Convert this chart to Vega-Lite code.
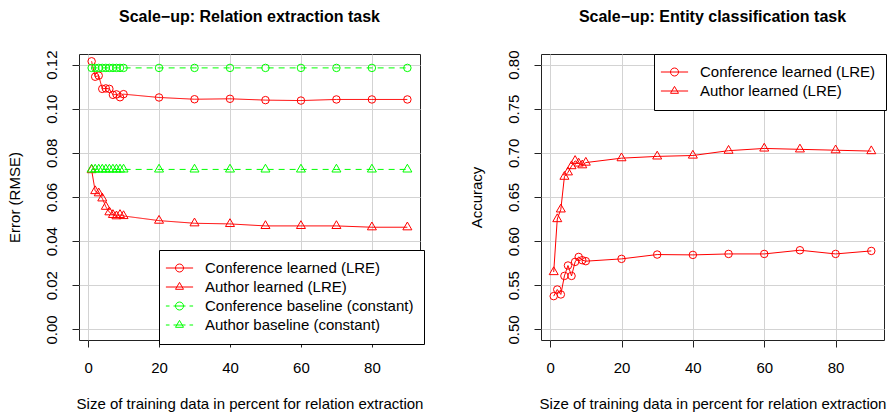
{
  "$schema": "https://vega.github.io/schema/vega-lite/v6.json",
  "padding": {"left": 6, "top": 8, "right": 0, "bottom": 0},
  "background": "white",
  "datasets": {
    "rel": [
      {"series": "Conference learned (LRE)", "x": 1, "y": 0.1215},
      {"series": "Conference learned (LRE)", "x": 2, "y": 0.1145},
      {"series": "Conference learned (LRE)", "x": 3, "y": 0.115},
      {"series": "Conference learned (LRE)", "x": 4, "y": 0.109},
      {"series": "Conference learned (LRE)", "x": 5, "y": 0.1092},
      {"series": "Conference learned (LRE)", "x": 6, "y": 0.109},
      {"series": "Conference learned (LRE)", "x": 7, "y": 0.1063},
      {"series": "Conference learned (LRE)", "x": 8, "y": 0.1065},
      {"series": "Conference learned (LRE)", "x": 9, "y": 0.1052},
      {"series": "Conference learned (LRE)", "x": 10, "y": 0.1066},
      {"series": "Conference learned (LRE)", "x": 20, "y": 0.1051},
      {"series": "Conference learned (LRE)", "x": 30, "y": 0.1043},
      {"series": "Conference learned (LRE)", "x": 40, "y": 0.1045},
      {"series": "Conference learned (LRE)", "x": 50, "y": 0.1039},
      {"series": "Conference learned (LRE)", "x": 60, "y": 0.1037},
      {"series": "Conference learned (LRE)", "x": 70, "y": 0.1042},
      {"series": "Conference learned (LRE)", "x": 80, "y": 0.1042},
      {"series": "Conference learned (LRE)", "x": 90, "y": 0.1042},
      {"series": "Author learned (LRE)", "x": 1, "y": 0.0722},
      {"series": "Author learned (LRE)", "x": 2, "y": 0.0627},
      {"series": "Author learned (LRE)", "x": 3, "y": 0.0617},
      {"series": "Author learned (LRE)", "x": 4, "y": 0.0594},
      {"series": "Author learned (LRE)", "x": 5, "y": 0.0556},
      {"series": "Author learned (LRE)", "x": 6, "y": 0.0531},
      {"series": "Author learned (LRE)", "x": 7, "y": 0.0519},
      {"series": "Author learned (LRE)", "x": 8, "y": 0.0513},
      {"series": "Author learned (LRE)", "x": 9, "y": 0.0519},
      {"series": "Author learned (LRE)", "x": 10, "y": 0.0514},
      {"series": "Author learned (LRE)", "x": 20, "y": 0.0493},
      {"series": "Author learned (LRE)", "x": 30, "y": 0.0481},
      {"series": "Author learned (LRE)", "x": 40, "y": 0.0478},
      {"series": "Author learned (LRE)", "x": 50, "y": 0.0469},
      {"series": "Author learned (LRE)", "x": 60, "y": 0.0469},
      {"series": "Author learned (LRE)", "x": 70, "y": 0.0469},
      {"series": "Author learned (LRE)", "x": 80, "y": 0.0463},
      {"series": "Author learned (LRE)", "x": 90, "y": 0.0463},
      {"series": "Conference baseline (constant)", "x": 1, "y": 0.1185},
      {"series": "Conference baseline (constant)", "x": 2, "y": 0.1185},
      {"series": "Conference baseline (constant)", "x": 3, "y": 0.1185},
      {"series": "Conference baseline (constant)", "x": 4, "y": 0.1185},
      {"series": "Conference baseline (constant)", "x": 5, "y": 0.1185},
      {"series": "Conference baseline (constant)", "x": 6, "y": 0.1185},
      {"series": "Conference baseline (constant)", "x": 7, "y": 0.1185},
      {"series": "Conference baseline (constant)", "x": 8, "y": 0.1185},
      {"series": "Conference baseline (constant)", "x": 9, "y": 0.1185},
      {"series": "Conference baseline (constant)", "x": 10, "y": 0.1185},
      {"series": "Conference baseline (constant)", "x": 20, "y": 0.1185},
      {"series": "Conference baseline (constant)", "x": 30, "y": 0.1185},
      {"series": "Conference baseline (constant)", "x": 40, "y": 0.1185},
      {"series": "Conference baseline (constant)", "x": 50, "y": 0.1185},
      {"series": "Conference baseline (constant)", "x": 60, "y": 0.1185},
      {"series": "Conference baseline (constant)", "x": 70, "y": 0.1185},
      {"series": "Conference baseline (constant)", "x": 80, "y": 0.1185},
      {"series": "Conference baseline (constant)", "x": 90, "y": 0.1185},
      {"series": "Author baseline (constant)", "x": 1, "y": 0.0725},
      {"series": "Author baseline (constant)", "x": 2, "y": 0.0725},
      {"series": "Author baseline (constant)", "x": 3, "y": 0.0725},
      {"series": "Author baseline (constant)", "x": 4, "y": 0.0725},
      {"series": "Author baseline (constant)", "x": 5, "y": 0.0725},
      {"series": "Author baseline (constant)", "x": 6, "y": 0.0725},
      {"series": "Author baseline (constant)", "x": 7, "y": 0.0725},
      {"series": "Author baseline (constant)", "x": 8, "y": 0.0725},
      {"series": "Author baseline (constant)", "x": 9, "y": 0.0725},
      {"series": "Author baseline (constant)", "x": 10, "y": 0.0725},
      {"series": "Author baseline (constant)", "x": 20, "y": 0.0725},
      {"series": "Author baseline (constant)", "x": 30, "y": 0.0725},
      {"series": "Author baseline (constant)", "x": 40, "y": 0.0725},
      {"series": "Author baseline (constant)", "x": 50, "y": 0.0725},
      {"series": "Author baseline (constant)", "x": 60, "y": 0.0725},
      {"series": "Author baseline (constant)", "x": 70, "y": 0.0725},
      {"series": "Author baseline (constant)", "x": 80, "y": 0.0725},
      {"series": "Author baseline (constant)", "x": 90, "y": 0.0725}
    ],
    "ent": [
      {"series": "Conference learned (LRE)", "x": 1, "y": 0.5377},
      {"series": "Conference learned (LRE)", "x": 2, "y": 0.5452},
      {"series": "Conference learned (LRE)", "x": 3, "y": 0.5396},
      {"series": "Conference learned (LRE)", "x": 4, "y": 0.5606},
      {"series": "Conference learned (LRE)", "x": 5, "y": 0.5724},
      {"series": "Conference learned (LRE)", "x": 6, "y": 0.5606},
      {"series": "Conference learned (LRE)", "x": 7, "y": 0.5765},
      {"series": "Conference learned (LRE)", "x": 8, "y": 0.5821},
      {"series": "Conference learned (LRE)", "x": 9, "y": 0.5784},
      {"series": "Conference learned (LRE)", "x": 10, "y": 0.5773},
      {"series": "Conference learned (LRE)", "x": 20, "y": 0.5799},
      {"series": "Conference learned (LRE)", "x": 30, "y": 0.5848},
      {"series": "Conference learned (LRE)", "x": 40, "y": 0.5844},
      {"series": "Conference learned (LRE)", "x": 50, "y": 0.5855},
      {"series": "Conference learned (LRE)", "x": 60, "y": 0.5855},
      {"series": "Conference learned (LRE)", "x": 70, "y": 0.5897},
      {"series": "Conference learned (LRE)", "x": 80, "y": 0.5855},
      {"series": "Conference learned (LRE)", "x": 90, "y": 0.5889},
      {"series": "Author learned (LRE)", "x": 1, "y": 0.565},
      {"series": "Author learned (LRE)", "x": 2, "y": 0.625},
      {"series": "Author learned (LRE)", "x": 3, "y": 0.636},
      {"series": "Author learned (LRE)", "x": 4, "y": 0.673},
      {"series": "Author learned (LRE)", "x": 5, "y": 0.678},
      {"series": "Author learned (LRE)", "x": 6, "y": 0.685},
      {"series": "Author learned (LRE)", "x": 7, "y": 0.691},
      {"series": "Author learned (LRE)", "x": 8, "y": 0.688},
      {"series": "Author learned (LRE)", "x": 9, "y": 0.686},
      {"series": "Author learned (LRE)", "x": 10, "y": 0.689},
      {"series": "Author learned (LRE)", "x": 20, "y": 0.694},
      {"series": "Author learned (LRE)", "x": 30, "y": 0.696},
      {"series": "Author learned (LRE)", "x": 40, "y": 0.697},
      {"series": "Author learned (LRE)", "x": 50, "y": 0.7025},
      {"series": "Author learned (LRE)", "x": 60, "y": 0.705},
      {"series": "Author learned (LRE)", "x": 70, "y": 0.704},
      {"series": "Author learned (LRE)", "x": 80, "y": 0.703},
      {"series": "Author learned (LRE)", "x": 90, "y": 0.702}
    ]
  },
  "config": {
    "font": "Liberation Sans",
    "view": {"stroke": "#222222", "strokeWidth": 1},
    "axis": {
      "domain": false,
      "grid": true,
      "gridColor": "#d3d3d3",
      "gridWidth": 1,
      "tickColor": "#222222",
      "tickSize": 7,
      "labelColor": "black",
      "labelFontSize": 15,
      "labelFont": "Liberation Sans",
      "titleFont": "Liberation Sans",
      "titleFontSize": 15,
      "titleFontWeight": "normal",
      "titleColor": "black"
    },
    "axisX": {"labelPadding": 13, "titlePadding": 21, "labelFlush": false},
    "axisY": {"labelAngle": -90, "labelPadding": 13, "titlePadding": 22, "labelFlush": false},
    "title": {"font": "Liberation Sans", "fontSize": 16, "fontWeight": "bold", "color": "black", "offset": 25, "anchor": "middle"},
    "legend": {
      "labelFont": "Liberation Sans",
      "strokeColor": "black", "fillColor": "white", "padding": 10.5,
      "symbolSize": 64, "symbolStrokeWidth": 1, "symbolOffset": 2.5, "labelOffset": 18,
      "rowPadding": 3, "labelFontSize": 15, "labelLimit": 400, "labelColor": "black",
      "symbolFillColor": "transparent", "symbolOpacity": 1, "cornerRadius": 0
    }
  },
  "resolve": {
    "scale": {"color": "independent", "stroke": "independent", "shape": "independent", "strokeDash": "independent"},
    "legend": {"color": "independent", "stroke": "independent", "shape": "independent", "strokeDash": "independent"}
  },
  "spacing": 43,
  "hconcat": [
    {
      "width": 341,
      "height": 286,
      "title": "Scale−up: Relation extraction task",
      "data": {"name": "rel"},
      "encoding": {
        "x": {
          "field": "x", "type": "quantitative",
          "scale": {"domain": [-2.56, 93.56], "nice": false, "zero": false},
          "axis": {"values": [0, 20, 40, 60, 80], "title": "Size of training data in percent for relation extraction"}
        },
        "y": {
          "field": "y", "type": "quantitative",
          "scale": {"domain": [-0.0048, 0.1248], "nice": false, "zero": false},
          "axis": {"values": [0, 0.02, 0.04, 0.06, 0.08, 0.1, 0.12], "format": ".2f", "title": "Error (RMSE)"}
        }
      },
      "layer": [
        {
          "mark": {"type": "line", "strokeWidth": 1},
          "encoding": {
            "color": {
              "field": "series", "type": "nominal", "legend": null,
              "scale": {"range": ["#00ff00", "#ff0000", "#00ff00", "#ff0000"]}
            },
            "strokeDash": {
              "field": "series", "type": "nominal", "legend": null,
              "scale": {"range": [[6, 5], [1, 0], [6, 5], [1, 0]]}
            }
          }
        },
        {
          "transform": [{"filter": "indexof(datum.series, 'Conference') >= 0"}],
          "mark": {"type": "point", "shape": "circle", "filled": false, "size": 56, "strokeWidth": 1, "opacity": 1},
          "encoding": {
            "color": {"field": "series", "type": "nominal", "legend": null}
          }
        },
        {
          "transform": [{"filter": "indexof(datum.series, 'Author') >= 0"}],
          "mark": {"type": "point", "shape": "M0,-1.1547L1,0.5774L-1,0.5774Z", "filled": false, "size": 81, "strokeWidth": 1, "opacity": 1},
          "encoding": {
            "color": {"field": "series", "type": "nominal", "legend": null}
          }
        },
        {
          "transform": [{"filter": "false"}],
          "mark": {"type": "point", "filled": false, "strokeWidth": 1, "opacity": 1},
          "encoding": {
            "stroke": {
              "field": "series", "type": "nominal",
              "scale": {"domain": ["Conference learned (LRE)", "Author learned (LRE)", "Conference baseline (constant)", "Author baseline (constant)"], "range": ["#ff0000", "#ff0000", "#00ff00", "#00ff00"]},
              "legend": {"title": null, "orient": "none", "legendX": 80, "legendY": 196}
            },
            "shape": {
              "field": "series", "type": "nominal",
              "scale": {"domain": ["Conference learned (LRE)", "Author learned (LRE)", "Conference baseline (constant)", "Author baseline (constant)"],
                "range": [
                  "M-3.4,0H3.4M1,0A1,1 0 1,1 -1,0A1,1 0 1,1 1,0",
                  "M-3.4,0H3.4M0,-1.1547L1,0.5774L-1,0.5774Z",
                  "M-3.4,0H-2.5M-1.5,0H1.5M2.5,0H3.4M1,0A1,1 0 1,1 -1,0A1,1 0 1,1 1,0",
                  "M-3.4,0H-2.5M-1.5,0H1.5M2.5,0H3.4M0,-1.1547L1,0.5774L-1,0.5774Z"
                ]},
              "legend": {"title": null, "orient": "none", "legendX": 80, "legendY": 196}
            }
          }
        }
      ]
    },
    {
      "width": 343,
      "height": 286,
      "title": "Scale−up: Entity classification task",
      "data": {"name": "ent"},
      "encoding": {
        "x": {
          "field": "x", "type": "quantitative",
          "scale": {"domain": [-2.56, 93.56], "nice": false, "zero": false},
          "axis": {"values": [0, 20, 40, 60, 80], "title": "Size of training data in percent for relation extraction"}
        },
        "y": {
          "field": "y", "type": "quantitative",
          "scale": {"domain": [0.488, 0.812], "nice": false, "zero": false},
          "axis": {"values": [0.5, 0.55, 0.6, 0.65, 0.7, 0.75, 0.8], "format": ".2f", "title": "Accuracy"}
        }
      },
      "layer": [
        {
          "mark": {"type": "line", "strokeWidth": 1},
          "encoding": {
            "color": {
              "field": "series", "type": "nominal", "legend": null,
              "scale": {"range": ["#ff0000", "#ff0000"]}
            }
          }
        },
        {
          "transform": [{"filter": "indexof(datum.series, 'Conference') >= 0"}],
          "mark": {"type": "point", "shape": "circle", "filled": false, "size": 56, "strokeWidth": 1, "opacity": 1},
          "encoding": {
            "color": {"field": "series", "type": "nominal", "legend": null}
          }
        },
        {
          "transform": [{"filter": "indexof(datum.series, 'Author') >= 0"}],
          "mark": {"type": "point", "shape": "M0,-1.1547L1,0.5774L-1,0.5774Z", "filled": false, "size": 81, "strokeWidth": 1, "opacity": 1},
          "encoding": {
            "color": {"field": "series", "type": "nominal", "legend": null}
          }
        },
        {
          "transform": [{"filter": "false"}],
          "mark": {"type": "point", "filled": false, "strokeWidth": 1, "opacity": 1},
          "encoding": {
            "stroke": {
              "field": "series", "type": "nominal",
              "scale": {"domain": ["Conference learned (LRE)", "Author learned (LRE)"], "range": ["#ff0000", "#ff0000"]},
              "legend": {"title": null, "orient": "none", "legendX": 113, "legendY": 0}
            },
            "shape": {
              "field": "series", "type": "nominal",
              "scale": {"domain": ["Conference learned (LRE)", "Author learned (LRE)"],
                "range": [
                  "M-3.4,0H3.4M1,0A1,1 0 1,1 -1,0A1,1 0 1,1 1,0",
                  "M-3.4,0H3.4M0,-1.1547L1,0.5774L-1,0.5774Z"
                ]},
              "legend": {"title": null, "orient": "none", "legendX": 113, "legendY": 0}
            }
          }
        }
      ]
    }
  ]
}
